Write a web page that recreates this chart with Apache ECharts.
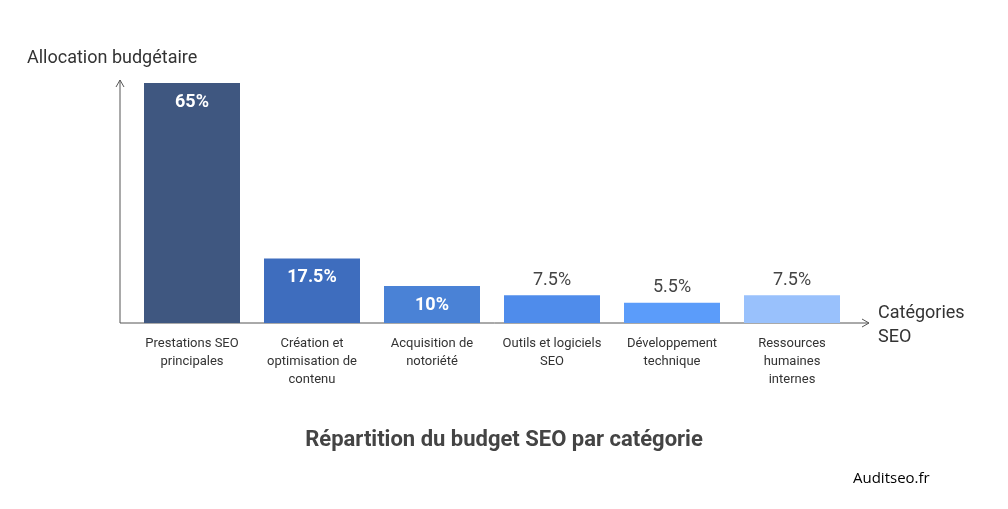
<!DOCTYPE html>
<html>
<head>
<meta charset="utf-8">
<script src="https://cdn.jsdelivr.net/npm/echarts@6/dist/echarts.min.js"></script>
<style>body{margin:0;background:#fff}#chart{width:1008px;height:509px}</style>
</head>
<body>
<div id="chart"></div>
<script>
var categories = ['Prestations SEO\nprincipales','Création et\noptimisation de\ncontenu','Acquisition de\nnotoriété','Outils et logiciels\nSEO','Développement\ntechnique','Ressources\nhumaines\ninternes'];
var values = [65, 17.5, 10, 7.5, 5.5, 7.5];
var labelsInside = [true, true, true, false, false, false];
var colors = ['#3F5780','#3E6DBE','#4A82D6','#4F8CEB','#5B9CFA','#99C1FC'];

var chart = echarts.init(document.getElementById('chart'));
var data = values.map(function (v, i) {
    return {
        value: v,
        itemStyle: {color: colors[i]},
        label: labelsInside[i]
            ? {position: 'insideTop', color: '#fff', fontWeight: 'bold', fontSize: 18, distance: 10}
            : {position: 'top', color: '#444', fontSize: 18, distance: 6}
    };
});
option = {
    animation: false,
    grid: {left: 132, width: 720, top: 83, bottom: 186},
    title: {
        text: 'Répartition du budget SEO par catégorie',
        left: 'center', top: 424,
        textStyle: {fontFamily: 'Roboto', fontSize: 22, fontWeight: 'bold', color: '#444'}
    },
    xAxis: {
        type: 'category', data: categories,
        axisLine: {show: false}, axisTick: {show: false},
        axisLabel: {interval: 0, color: '#333', fontSize: 13, fontFamily: 'Roboto', lineHeight: 18, margin: 12}
    },
    yAxis: {type: 'value', min: 0, max: 65, show: false},
    graphic: [
        {type: 'line', shape: {x1: 120, y1: 323, x2: 120, y2: 80}, style: {stroke: '#555', lineWidth: 1}},
        {type: 'polyline', shape: {points: [[116, 87], [120, 80], [124, 87]]}, style: {stroke: '#555', fill: null}},
        {type: 'line', shape: {x1: 120, y1: 323, x2: 869, y2: 323}, style: {stroke: '#555', lineWidth: 1}},
        {type: 'polyline', shape: {points: [[862, 319], [869, 323], [862, 327]]}, style: {stroke: '#555', fill: null}},
        {type: 'text', left: 27, top: 49, style: {text: 'Allocation budgétaire', fontSize: 18, fontFamily: 'Roboto', fill: '#333'}},
        {type: 'text', left: 878, top: 301, style: {text: 'Catégories\nSEO', fontSize: 18, fontFamily: 'Roboto', fill: '#333', lineHeight: 24}},
        {type: 'text', left: 853, top: 471, style: {text: 'Auditseo.fr', fontSize: 15, fontFamily: 'Open Sans', fill: '#000'}}
    ],
    series: [{
        type: 'bar', data: data, barWidth: 96,
        label: {show: true, formatter: '{c}%', fontFamily: 'Roboto'}
    }]
};
chart.setOption(option);
</script>
</body>
</html>
